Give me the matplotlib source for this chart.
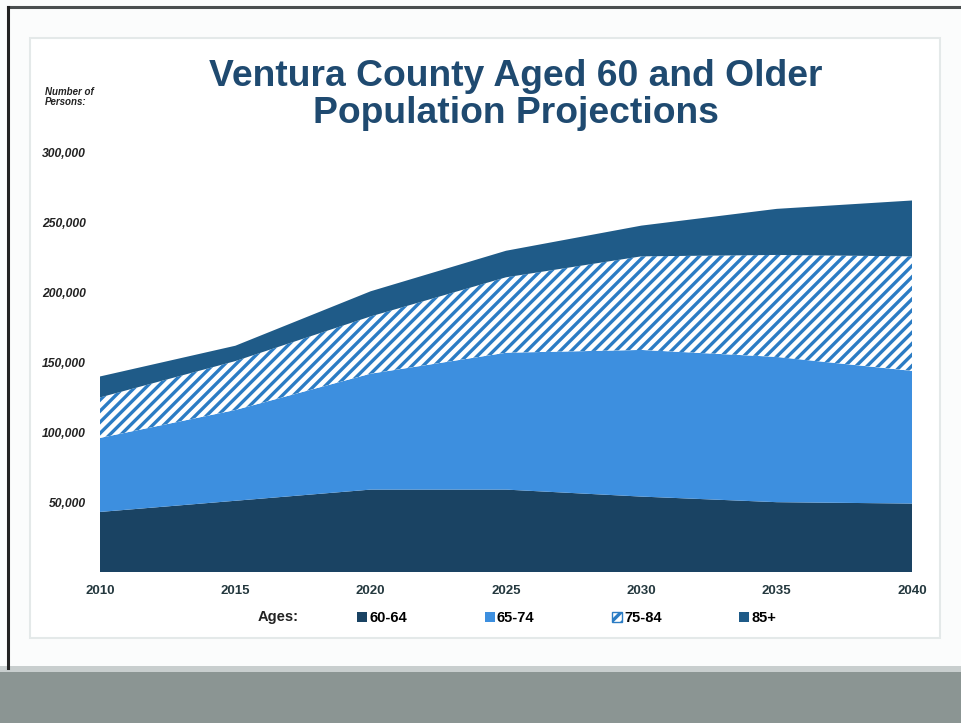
import matplotlib
matplotlib.use("Agg")
import matplotlib.pyplot as plt
from matplotlib.patches import Rectangle, Patch

# projections (persons, by age group)
years = [2010, 2015, 2020, 2025, 2030, 2035, 2040]
age_60_64 = [43000, 51000, 59000, 59000, 54000, 50000, 49000]
age_65_74 = [53000, 65000, 83000, 98000, 105000, 104000, 95000]
age_75_84 = [29000, 35000, 41000, 54000, 67000, 73000, 82000]
age_85_up = [15000, 11000, 18000, 19000, 22000, 33000, 40000]
groups = ["60-64", "65-74", "75-84", "85+"]
y_ticks = [50000, 100000, 150000, 200000, 250000, 300000]

colors = ["#1a4363", "#3d8fdf", "white", "#1f5b88"]
hatch_blue = "#2b7cc4"
text_dark = "#24383e"

plt.rcParams["hatch.linewidth"] = 2.4
plt.rcParams["font.family"] = "Liberation Sans"

W, H = 962, 723
fig = plt.figure(figsize=(W / 100, H / 100), dpi=100, facecolor="#fbfcfc")

# scanned slide decorations: border, inner panel, gray band at bottom
bg = fig.add_axes([0, 0, 1, 1], zorder=-5)
bg.set_xlim(0, W)
bg.set_ylim(H, 0)
bg.axis("off")
bg.add_patch(Rectangle((30, 38), 910, 600, facecolor="white", edgecolor="#e4e9e9", lw=1.5))
bg.add_patch(Rectangle((0, 672), W, 51, facecolor="#8b9593", edgecolor="none"))
bg.add_patch(Rectangle((0, 666), W, 6, facecolor="#c8cece", edgecolor="none"))
bg.plot([8, W], [7, 7], color="#4a4e4f", lw=2.2)
bg.plot([8, 8], [7, 668], color="#222222", lw=2.2)

# plot area: x 100..912 px, y 0 at 572 px, 300k at 153 px
ax = fig.add_axes([100 / W, (H - 572) / H, 812 / W, 419 / H])
polys = ax.stackplot(years, age_60_64, age_65_74, age_75_84, age_85_up,
                     colors=colors, labels=groups, linewidth=0)
polys[2].set_hatch("///")
polys[2].set_edgecolor(hatch_blue)
ax.set_xlim(2010, 2040)
ax.set_ylim(0, 300000)
ax.set_xticks(years)
ax.set_xticklabels([str(y) for y in years], fontsize=9.5, fontweight="bold", color=text_dark)
ax.set_yticks(y_ticks)
ax.set_yticklabels([f"{v:,}" for v in y_ticks], fontsize=8.7, fontweight="bold",
                   style="italic", color="#222222")
ax.tick_params(length=0, axis="y", pad=10)
ax.tick_params(length=0, axis="x", pad=9)
for s in ax.spines.values():
    s.set_visible(False)
ax.set_facecolor("white")

fig.text(45 / W, 1 - 97 / H, "Number of\nPersons:", fontsize=7, fontweight="bold",
         style="italic", color="#222222", va="center", ha="left", linespacing=1.1)

fig.text(516 / W, 1 - 95 / H, "Ventura County Aged 60 and Older\nPopulation Projections",
         fontsize=26.8, fontweight="bold", color="#1f4a70", ha="center", va="center",
         linespacing=1.1)

# legend row
fig.text(258 / W, 1 - 617 / H, "Ages:", fontsize=10.5, fontweight="bold",
         color="#222222", va="center", ha="left")
handles = [Patch(facecolor=colors[0]), Patch(facecolor=colors[1]),
           Patch(facecolor="white", edgecolor=hatch_blue, hatch="///"),
           Patch(facecolor=colors[3])]
fig.legend(handles, groups, loc="center left", bbox_to_anchor=(344 / W, 1 - 618 / H),
           ncol=4, frameon=False, handlelength=0.7, handleheight=0.7,
           handletextpad=0.15, columnspacing=5.3,
           prop={"weight": "bold", "size": 10.5})

fig.savefig("out.png", dpi=100, facecolor=fig.get_facecolor())
